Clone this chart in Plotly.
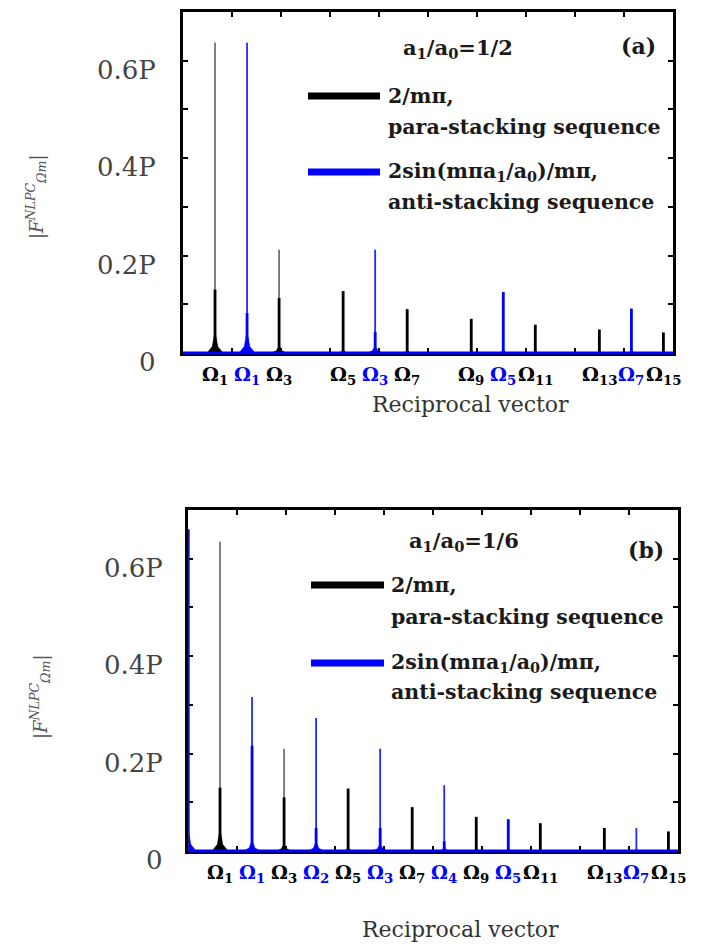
import plotly.graph_objects as go

# ---------------- data ----------------
# panel (a): a1/a0 = 1/2
a_black_k = [1, 3, 5, 7, 9, 11, 13, 15]
a_black_h = [0.637, 0.212, 0.127, 0.090, 0.070, 0.058, 0.048, 0.042]
a_black_core = [0.130, 0.113, 0.127, 0.090, 0.070, 0.058, 0.048, 0.042]
a_blue_k = [2, 6, 10, 14]
a_blue_n = [1, 3, 5, 7]
a_blue_h = [0.637, 0.212, 0.125, 0.091]
a_blue_core = [0.082, 0.043, 0.125, 0.091]

# panel (b): a1/a0 = 1/6
b_black_k = [1, 3, 5, 7, 9, 11, 13, 15]
b_black_h = [0.635, 0.210, 0.128, 0.090, 0.070, 0.057, 0.047, 0.040]
b_black_core = [0.130, 0.110, 0.128, 0.090, 0.070, 0.057, 0.047, 0.040]
b_blue_k = [0, 2, 4, 6, 8, 10, 14]
b_blue_n = [0, 1, 2, 3, 4, 5, 7]
b_blue_h = [0.660, 0.316, 0.273, 0.210, 0.135, 0.065, 0.047]
b_blue_core = [0.660, 0.216, 0.047, 0.047, 0.020, 0.065, 0.0]

ytick_vals = [0.0, 0.2, 0.4, 0.6]
ytick_text = ["0", "0.2P", "0.4P", "0.6P"]

X_MAX = 15.3
Y_MAX = 0.7
OFF = 8            # page body margin
W, H = 714 - OFF, 951 - OFF

BLACK = "#000000"
BLUE = "#0000ff"
SERIF = "DejaVu Serif"

fig = go.Figure()


def px_x(p):
    return (p - OFF) / W


def px_y(p):
    return 1 - (p - OFF) / H


def add_peaks(k, h, core, color, thin_color, xa, ya):
    xs, ys, xc, yc = [], [], [], []
    hx, hy = [], []
    for kk, hh, cc in zip(k, h, core):
        xs += [kk, kk, None]
        ys += [0, hh, None]
        if cc > 0:
            xc += [kk, kk, None]
            yc += [0, cc, None]
        bh = 0.07 * hh
        bw = 0.25 if hh > 0.15 else 0.15
        hx += [kk - bw, kk - bw * 0.35, kk, kk + bw * 0.35, kk + bw, None]
        hy += [0, bh * 0.3, bh, bh * 0.3, 0, None]
    fig.add_trace(go.Scatter(x=hx, y=hy, mode="lines", fill="toself",
                             fillcolor=color, line=dict(color=color, width=0.5),
                             xaxis=xa, yaxis=ya, showlegend=False, hoverinfo="skip"))
    fig.add_trace(go.Scatter(x=xs, y=ys, mode="lines",
                             line=dict(color=thin_color, width=1.8),
                             xaxis=xa, yaxis=ya, showlegend=False, hoverinfo="skip"))
    fig.add_trace(go.Scatter(x=xc, y=yc, mode="lines",
                             line=dict(color=color, width=2.8),
                             xaxis=xa, yaxis=ya, showlegend=False, hoverinfo="skip"))


add_peaks(a_black_k, a_black_h, a_black_core, BLACK, "rgba(0,0,0,0.55)", "x", "y")
add_peaks(a_blue_k, a_blue_h, a_blue_core, BLUE, "rgba(0,0,255,0.85)", "x", "y")
add_peaks(b_black_k, b_black_h, b_black_core, BLACK, "rgba(0,0,0,0.55)", "x2", "y2")
add_peaks(b_blue_k, b_blue_h, b_blue_core, BLUE, "rgba(0,0,255,0.85)", "x2", "y2")

panels = [
    dict(xa="x", ya="y"),
    dict(xa="x2", ya="y2"),
]

axis_common_x = dict(range=[0, X_MAX], showgrid=False, zeroline=False,
                     showline=True, linecolor=BLACK, linewidth=3, mirror="ticks",
                     ticks="inside", ticklen=5, tickwidth=2, tickcolor=BLACK,
                     tickvals=[X_MAX * i / 10 for i in range(1, 10)],
                     showticklabels=False, fixedrange=True)
axis_common_y = dict(range=[0, Y_MAX], showgrid=False, zeroline=False,
                     showline=True, linecolor=BLACK, linewidth=3, mirror="ticks",
                     ticks="inside", ticklen=5, tickwidth=2, tickcolor=BLACK,
                     tickvals=[0.1, 0.2, 0.3, 0.4, 0.5, 0.6],
                     showticklabels=False, fixedrange=True)

fig.update_layout(
    xaxis=dict(axis_common_x, domain=[px_x(183), px_x(673)], anchor="y"),
    yaxis=dict(axis_common_y, domain=[px_y(353), px_y(12)], anchor="x"),
    xaxis2=dict(axis_common_x, domain=[px_x(188), px_x(678)], anchor="y2"),
    yaxis2=dict(axis_common_y, domain=[px_y(851), px_y(510)], anchor="x2"),
)

shapes = []
annotations = []

for p in panels:
    xa, ya = p["xa"], p["ya"]
    shapes.append(dict(type="line", xref=xa + " domain", yref=ya + " domain",
                       x0=0, x1=1, y0=0, y1=0, line=dict(color=BLUE, width=3),
                       layer="above"))

# blue DC component of panel (b) drawn on the left frame
shapes.append(dict(type="line", xref="x2", yref="y2",
                   x0=b_blue_k[0], x1=b_blue_k[0], y0=0, y1=b_blue_h[0],
                   line=dict(color="#1a1aa0", width=3), layer="above"))

# y tick labels
for p, lab_right in zip(panels, [158, 165]):
    for v, t in zip(ytick_vals, ytick_text):
        annotations.append(dict(x=px_x(lab_right), xref="paper", xanchor="right",
                                y=v, yref=p["ya"], yanchor="middle", yshift=-9,
                                text=t, showarrow=False,
                                font=dict(family=SERIF, size=26, color="#444444")))

# y axis titles
for xc, yc in [(36, 197), (40, 697)]:
    annotations.append(dict(x=px_x(xc), y=px_y(yc), xref="paper", yref="paper",
                            xanchor="center", yanchor="middle",
                            text="|<i>F</i><sup><i>NLPC</i></sup><sub><i>Ωm</i></sub>|",
                            textangle=-90, showarrow=False,
                            font=dict(family=SERIF, size=18, color="#555555")))


def omega_labels(xa, ya, ks, ns, color):
    for kk, nn in zip(ks, ns):
        annotations.append(dict(x=kk, xref=xa, y=-0.065, yref=ya + " domain",
                                xanchor="center", yanchor="middle",
                                text="<b>Ω<sub>%d</sub></b>" % nn, showarrow=False,
                                font=dict(family=SERIF, size=19, color=color)))


omega_labels("x", "y", a_black_k, a_black_k, BLACK)
omega_labels("x", "y", a_blue_k, a_blue_n, BLUE)
omega_labels("x2", "y2", b_black_k, b_black_k, BLACK)
omega_labels("x2", "y2", b_blue_k[1:], b_blue_n[1:], BLUE)

# x axis titles
for xc, yc in [(470, 404), (460, 929)]:
    annotations.append(dict(x=px_x(xc), y=px_y(yc), xref="paper", yref="paper",
                            xanchor="center", yanchor="middle",
                            text="Reciprocal vector", showarrow=False,
                            font=dict(family=SERIF, size=22, color="#333333")))

legend_specs = [
    dict(ratio="a<sub>1</sub>/a<sub>0</sub>=1/2", ratio_xy=(458, 48), tag="(a)", tag_xy=(638, 46),
         lx=(308, 380), ly=(96, 172), tx=386, ty=(96, 127, 172, 202)),
    dict(ratio="a<sub>1</sub>/a<sub>0</sub>=1/6", ratio_xy=(464, 541), tag="(b)", tag_xy=(646, 550),
         lx=(311, 384), ly=(585, 663), tx=389, ty=(585, 617, 663, 692)),
]
TXT = "#1a1a1a"
for s in legend_specs:
    annotations.append(dict(x=px_x(s["ratio_xy"][0]), y=px_y(s["ratio_xy"][1]),
                            xref="paper", yref="paper", xanchor="center", yanchor="middle",
                            text="<b>" + s["ratio"] + "</b>",
                            showarrow=False, font=dict(family=SERIF, size=21, color=TXT)))
    annotations.append(dict(x=px_x(s["tag_xy"][0]), y=px_y(s["tag_xy"][1]),
                            xref="paper", yref="paper", xanchor="center", yanchor="middle",
                            text="<b>" + s["tag"] + "</b>",
                            showarrow=False, font=dict(family=SERIF, size=22, color=TXT)))
    for yy, col in zip(s["ly"], [BLACK, BLUE]):
        shapes.append(dict(type="line", xref="paper", yref="paper",
                           x0=px_x(s["lx"][0]), x1=px_x(s["lx"][1]),
                           y0=px_y(yy), y1=px_y(yy), line=dict(color=col, width=7)))
    texts = ["2/mπ,", "para-stacking sequence",
             "2sin(mπa<sub>1</sub>/a<sub>0</sub>)/mπ,", "anti-stacking sequence"]
    for t, yy in zip(texts, s["ty"]):
        annotations.append(dict(x=px_x(s["tx"]), y=px_y(yy), xref="paper", yref="paper",
                                xanchor="left", yanchor="middle", text="<b>" + t + "</b>",
                                showarrow=False, font=dict(family=SERIF, size=20.5, color=TXT)))

fig.update_layout(
    width=W, height=H, autosize=False,
    margin=dict(l=0, r=0, t=0, b=0),
    paper_bgcolor="white", plot_bgcolor="white",
    shapes=shapes, annotations=annotations, showlegend=False,
)

fig.write_html("out.html")
